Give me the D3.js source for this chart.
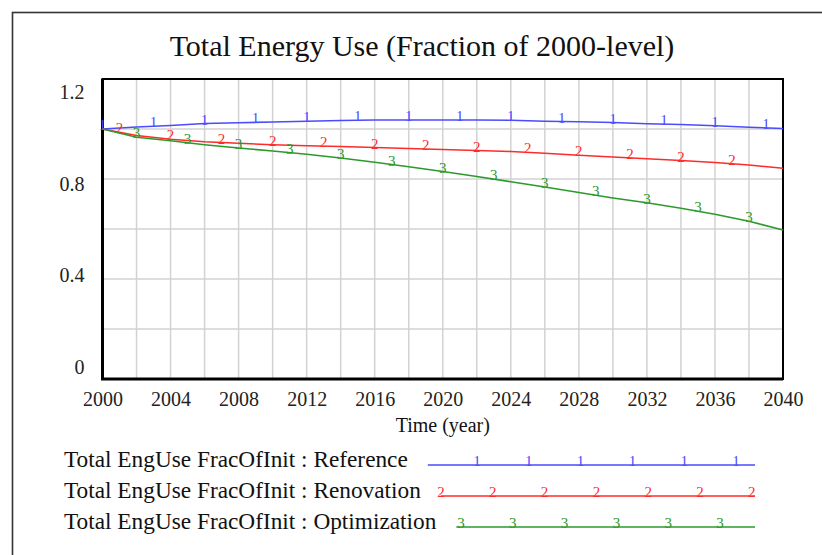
<!DOCTYPE html>
<html lang="en">
  <head>
    <meta charset="UTF-8" />
    <title>Total Energy Use</title>
    <script src="https://d3js.org/d3.v7.min.js"></script>
  </head>
  <body style="margin:0;background:#fff">
    <svg id="chart" width="822" height="555"></svg>
    <script>
      // Data (every 2 years)
      const years = [2000, 2002, 2004, 2006, 2008, 2010, 2012, 2014, 2016, 2018, 2020,
        2022, 2024, 2026, 2028, 2030, 2032, 2034, 2036, 2038, 2040]
      const reference = [1.000, 1.008, 1.014, 1.022, 1.025, 1.028, 1.031, 1.034, 1.036, 1.036, 1.036,
        1.036, 1.035, 1.031, 1.029, 1.026, 1.021, 1.018, 1.013, 1.007, 1.002]
      const renovation = [1.000, 0.974, 0.959, 0.949, 0.943, 0.937, 0.933, 0.930, 0.926, 0.922, 0.918,
        0.914, 0.910, 0.903, 0.895, 0.888, 0.881, 0.874, 0.866, 0.856, 0.843]
      const optimization = [1.000, 0.967, 0.953, 0.937, 0.924, 0.912, 0.899, 0.884, 0.867, 0.849, 0.830,
        0.810, 0.789, 0.768, 0.746, 0.724, 0.705, 0.683, 0.659, 0.631, 0.596]
      const seriesNames = ['Reference', 'Renovation', 'Optimization']
      const markerLabels = ['1', '2', '3']
      const xTicks = [2000, 2004, 2008, 2012, 2016, 2020, 2024, 2028, 2032, 2036, 2040]
      const yTicks = [0, 0.4, 0.8, 1.2]

      const serif = '"Liberation Serif", "Times New Roman", serif'
      const colors = ['#4b4bff', '#ff2b2b', '#2b9a2b']
      const legendMarkStart = [477, 441, 461] // first legend marker x for each row

      const svg = d3.select('svg')

      // outer frame
      svg.append('rect')
        .attr('x', 12.5).attr('y', 12.5)
        .attr('width', 900).attr('height', 900)
        .attr('fill', 'none').attr('stroke', '#333').attr('stroke-width', 1.6)

      const x = d3.scaleLinear().domain([2000, 2040]).range([102.5, 783])
      const y = d3.scaleLinear().domain([0, 1.2]).range([379, 79])
      // Vensim spreads the value labels a bit inside the axis range
      const yLabel = d3.scaleLinear().domain([0, 1.2]).range([367, 92])

      // title
      svg.append('text')
        .attr('x', 422).attr('y', 56)
        .attr('text-anchor', 'middle')
        .attr('font-family', serif)
        .attr('font-size', 30)
        .attr('fill', '#111')
        .text('Total Energy Use (Fraction of 2000-level)')

      // grid
      const grid = svg.append('g').attr('stroke', '#d2d2d2').attr('stroke-width', 1.5)
      grid.selectAll('.vx')
        .data(x.ticks(20))
        .join('line')
        .attr('x1', d => x(d)).attr('x2', d => x(d))
        .attr('y1', y(1.2)).attr('y2', y(0))
      grid.selectAll('.hy')
        .data(y.ticks(6))
        .join('line')
        .attr('x1', x(2000)).attr('x2', x(2040))
        .attr('y1', d => y(d)).attr('y2', d => y(d))

      // plot frame
      svg.append('rect')
        .attr('x', x(2000)).attr('y', y(1.2))
        .attr('width', x(2040) - x(2000)).attr('height', y(0) - y(1.2))
        .attr('fill', 'none').attr('stroke', '#000').attr('stroke-width', 2)
      svg.append('path')
        .attr('d', `M${x(2000)},${y(1.2)}V${y(0)}H${x(2040)}`)
        .attr('fill', 'none').attr('stroke', '#000').attr('stroke-width', 3)

      // axes labels
      const xAxis = svg.append('g')
        .attr('transform', `translate(0,${y(0)})`)
        .call(d3.axisBottom(x).tickValues(xTicks).tickSize(0).tickPadding(13).tickFormat(d3.format('d')))
      xAxis.select('.domain').remove()
      xAxis.attr('font-family', serif)
      xAxis.selectAll('text').attr('font-size', 20).attr('fill', '#222')

      const yAxis = svg.append('g')
        .attr('transform', `translate(${x(2000)},0)`)
        .call(d3.axisLeft(yLabel).tickValues(yTicks).tickSize(0).tickPadding(18)
          .tickFormat(d => (d === 0 ? '0' : d3.format('.1f')(d))))
      yAxis.select('.domain').remove()
      yAxis.attr('font-family', serif)
      yAxis.selectAll('text').attr('font-size', 20).attr('fill', '#222')

      svg.append('text')
        .attr('x', (x(2000) + x(2040)) / 2).attr('y', 432)
        .attr('text-anchor', 'middle')
        .attr('font-family', serif)
        .attr('font-size', 20).attr('fill', '#111')
        .text('Time (year)')

      // series lines and number markers
      const allSeries = [reference, renovation, optimization]
      const line = d3.line().x((d, i) => x(years[i])).y(d => y(d))

      const valueAt = (vals, t) => {
        const i = Math.min(d3.bisectRight(years, t) - 1, years.length - 2)
        const f = (t - years[i]) / (years[i + 1] - years[i])
        return vals[i] + f * (vals[i + 1] - vals[i])
      }

      allSeries.forEach((vals, si) => {
        svg.append('path')
          .datum(vals)
          .attr('d', line)
          .attr('fill', 'none')
          .attr('stroke', colors[si])
          .attr('stroke-width', 1.6)

        const markYears = d3.range(2000 + si, 2040, 3)
        svg.selectAll('.m' + si)
          .data(markYears)
          .join('text')
          .attr('x', t => x(t))
          .attr('y', t => y(valueAt(vals, t)) + 1)
          .attr('text-anchor', 'middle')
          .attr('font-family', serif)
          .attr('font-size', 15)
          .attr('fill', colors[si])
          .text(markerLabels[si])
      })

      // legend
      const legendY = [467, 498, 529]
      seriesNames.forEach((name, si) => {
        const label = svg.append('text')
          .attr('x', 64).attr('y', legendY[si])
          .attr('font-family', serif)
          .attr('font-size', 23.3).attr('fill', '#111')
          .text('Total EngUse FracOfInit : ' + name)
        const x0 = 64 + label.node().getComputedTextLength() + 20
        const ly = legendY[si] - 2
        svg.append('line')
          .attr('x1', x0).attr('x2', 755)
          .attr('y1', ly).attr('y2', ly)
          .attr('stroke', colors[si]).attr('stroke-width', 1.6)
        svg.selectAll('.lm' + si)
          .data(d3.range(legendMarkStart[si], 757, 51.8))
          .join('text')
          .attr('x', d => d).attr('y', ly + 1)
          .attr('text-anchor', 'middle')
          .attr('font-family', serif)
          .attr('font-size', 15)
          .attr('fill', colors[si])
          .text(markerLabels[si])
      })
    </script>
  </body>
</html>
